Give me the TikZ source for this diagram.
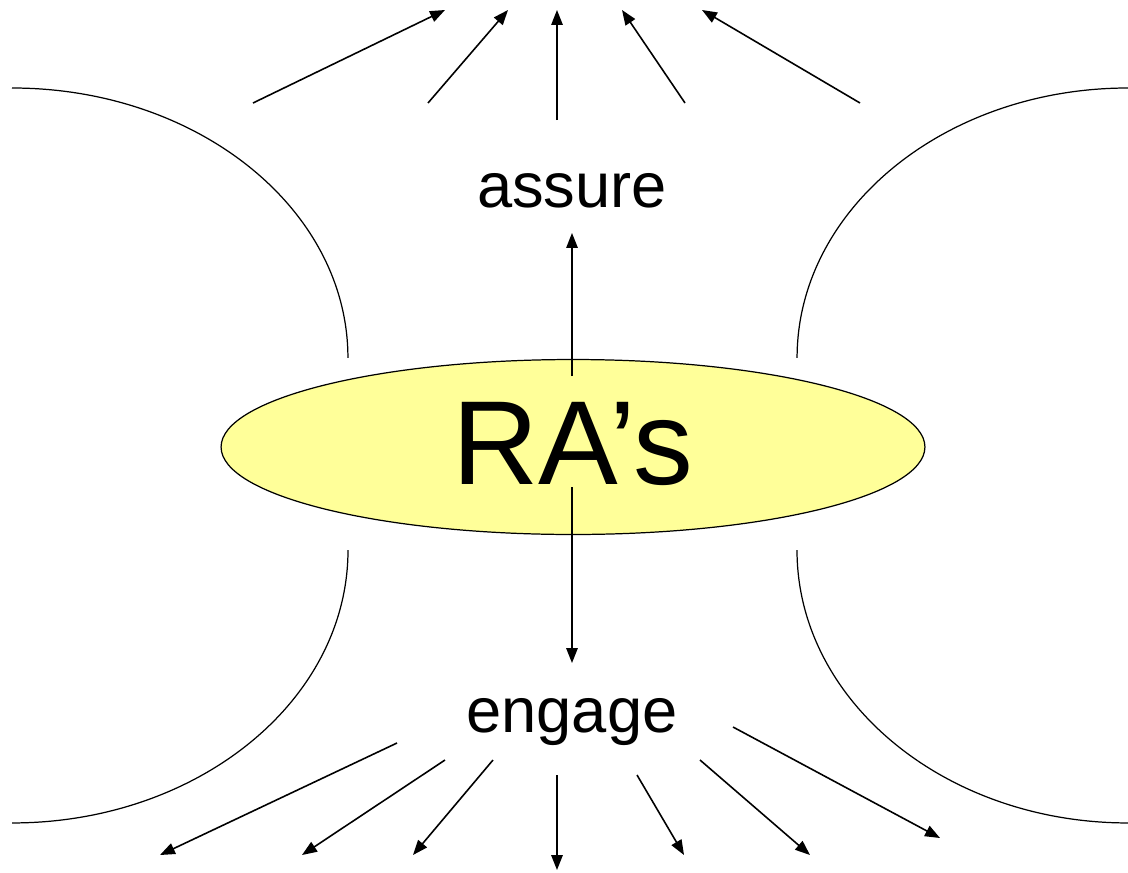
\documentclass[tikz,border=0pt]{standalone}
\usepackage{fontspec}
\setmainfont{Liberation Sans}
\usetikzlibrary{positioning, arrows.meta, shapes.geometric}
\definecolor{raYellow}{HTML}{FFFF99}

\begin{document}
\begin{tikzpicture}[x=0.02cm,y=-0.02cm,
        every node/.style={inner sep=0pt,outer sep=0pt},
        fan/.style={line width=0.9pt,-{Triangle[length=8.5pt,width=6.5pt]}},
        side/.style={line width=0.7pt}]
        \useasboundingbox (0,0) rectangle (1128,872);
        % seitliche Boegen
        \draw[side] (12,88) arc[start angle=90,end angle=0,x radius=6.72cm,y radius=5.4cm];
        \draw[side] (348,550) arc[start angle=0,end angle=-90,x radius=6.72cm,y radius=5.46cm];
        \draw[side] (1128,88) arc[start angle=90,end angle=180,x radius=6.62cm,y radius=5.4cm];
        \draw[side] (797,550) arc[start angle=180,end angle=270,x radius=6.62cm,y radius=5.46cm];
        % Mitte
        \node[draw,ellipse,fill=raYellow,line width=0.7pt,minimum width=14.08cm,minimum height=3.5cm] (ras) at (573,447) {};
        \node[font=\fontsize{68}{68}\selectfont] (ras-text) at (573,444) {RA’s};
        \node[font=\fontsize{36}{36}\selectfont] (assure) at (572,191) {assure};
        \node[font=\fontsize{36}{36}\selectfont] (engage) at (572,722) {engage};
        \coordinate (up-s) at (572,376);
        \coordinate (up-e) at (572,233);
        \coordinate (down-s) at (572,487);
        \coordinate (down-e) at (572,663);
        \draw[fan] (up-s) -- (up-e);
        \draw[fan] (down-s) -- (down-e);
        % Pfeile oben
        \foreach \i/\sx/\sy/\ex/\ey in {1/253/103/445/10, 2/428/103/508/10, 3/557/120/557/10, 4/685/103/622/10, 5/860/103/702/10} {
            \coordinate (top-s\i) at (\sx,\sy);
            \coordinate (top-e\i) at (\ex,\ey);
            \draw[fan] (top-s\i) -- (top-e\i);
        }
        % Pfeile unten
        \foreach \i/\sx/\sy/\ex/\ey in {1/397/743/160/855, 2/445/760/302/855, 3/493/760/413/855, 4/557/775/557/870, 5/637/775/684/855, 6/700/760/810/855, 7/733/727/940/838} {
            \coordinate (bot-s\i) at (\sx,\sy);
            \coordinate (bot-e\i) at (\ex,\ey);
            \draw[fan] (bot-s\i) -- (bot-e\i);
        }
    \end{tikzpicture}
\end{document}
